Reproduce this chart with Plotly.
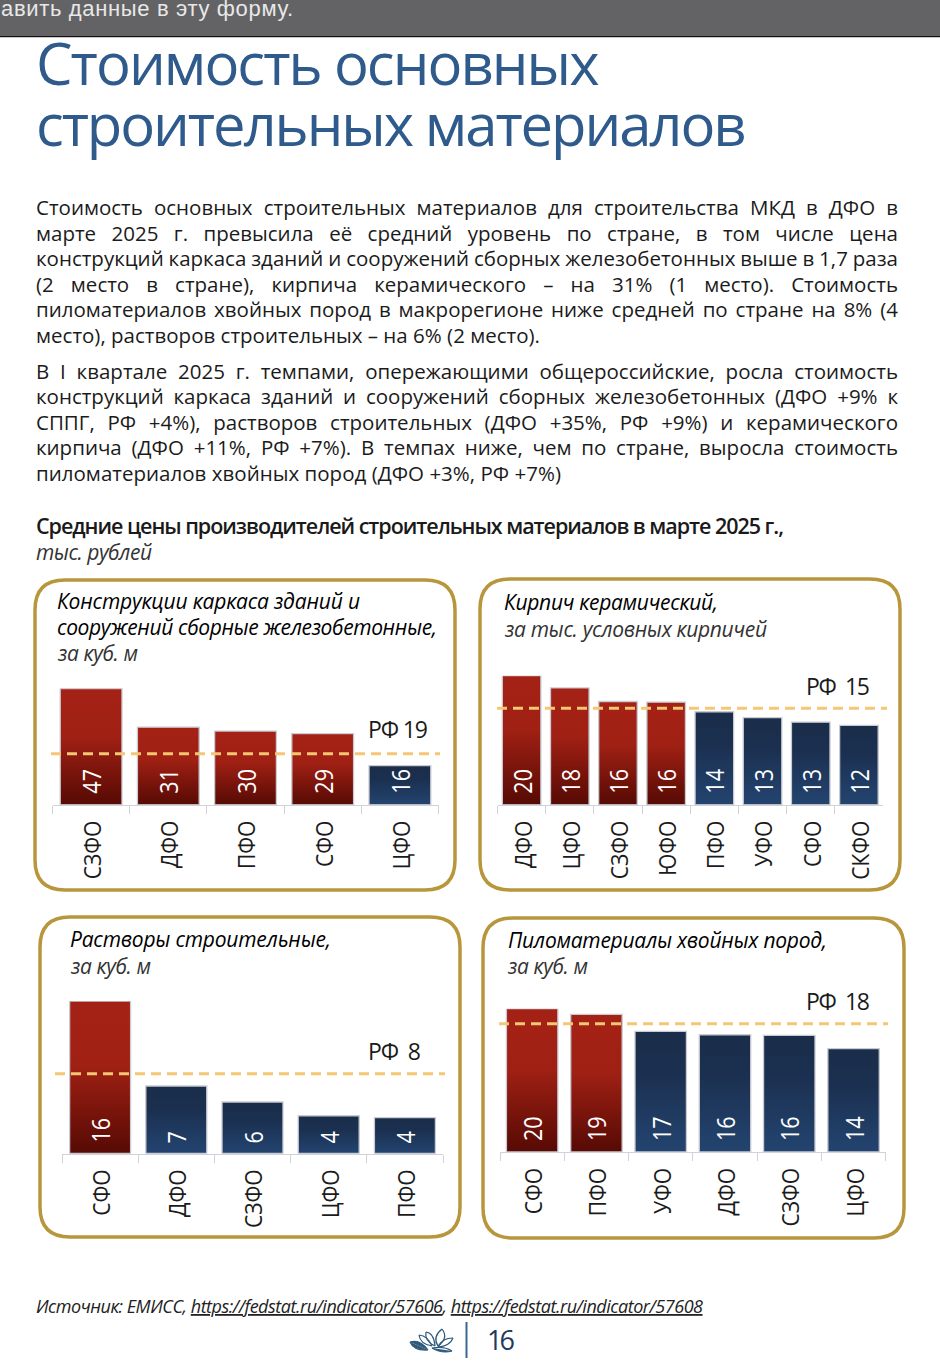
import json
import plotly.graph_objects as go

W, H = 940, 1362

# ---------- chart data ----------
frame_regions = ["СЗФО", "ДФО", "ПФО", "СФО", "ЦФО"]
frame_values = [47.0, 31.4, 29.8, 28.8, 15.8]
frame_rf_label = 19
frame_rf_level = 20.6

brick_regions = ["ДФО", "ЦФО", "СЗФО", "ЮФО", "ПФО", "УФО", "СФО", "СКФО"]
brick_values = [20.0, 18.1, 16.0, 15.9, 14.4, 13.49, 12.8, 12.3]
brick_rf_label = 15
brick_rf_level = 14.95

mortar_regions = ["СФО", "ДФО", "СЗФО", "ЦФО", "ПФО"]
mortar_values = [16.4, 7.26, 5.54, 4.06, 3.85]
mortar_rf_label = 8
mortar_rf_level = 8.58

timber_regions = ["СФО", "ПФО", "УФО", "ДФО", "СЗФО", "ЦФО"]
timber_values = [20.04, 19.26, 16.88, 16.4, 16.32, 14.45]
timber_rf_label = 18
timber_rf_level = 17.94

# ---------- texts ----------
title_lines = ["Стоимость основных", "строительных материалов"]
para_lines = [
    "Стоимость основных строительных материалов для строительства МКД в ДФО в",
    "марте 2025 г. превысила её средний уровень по стране, в том числе цена",
    "конструкций каркаса зданий и сооружений сборных железобетонных выше в 1,7 раза",
    "(2 место в стране), кирпича керамического – на 31% (1 место). Стоимость",
    "пиломатериалов хвойных пород в макрорегионе ниже средней по стране на 8% (4",
    "место), растворов строительных – на 6% (2 место).",
    "В I квартале 2025 г. темпами, опережающими общероссийские, росла стоимость",
    "конструкций каркаса зданий и сооружений сборных железобетонных (ДФО +9% к",
    "СППГ, РФ +4%), растворов строительных (ДФО +35%, РФ +9%) и керамического",
    "кирпича (ДФО +11%, РФ +7%). В темпах ниже, чем по стране, выросла стоимость",
    "пиломатериалов хвойных пород (ДФО +3%, РФ +7%)",
]
para_y = [208, 234, 259, 285, 310, 336, 372, 397, 423, 448, 474]
para_x1 = [898, 898, 898, 898, 898, 540, 898, 898, 898, 898, 561]

RED, BLUE = "#A42115", "#1A2D4A"
GOLD = "#B8963C"
INK = "#1B1B1B"
FONT = "Open Sans"


def px(x):
    return x / W


def py(y):
    return 1 - y / H


panels = [
    dict(cats=frame_regions, vals=frame_values, rf=frame_rf_label, level=frame_rf_level,
         box=(35, 580, 455, 890), ax=(52.5, 438.5), line=(51, 440), base=804.7, scale=2.47,
         head=[("Конструкции каркаса зданий и", 57, 360, 602, True),
               ("сооружений сборные железобетонные,", 57, 437, 628, True),
               ("за куб. м", 57, 137, 654, False)],
         rf_text="РФ 19", rf_pos=(368, 428, 730)),
    dict(cats=brick_regions, vals=brick_values, rf=brick_rf_label, level=brick_rf_level,
         box=(480, 579, 900, 890), ax=(497.5, 883), line=(497, 887), base=804.7, scale=6.45,
         head=[("Кирпич керамический,", 504, 718, 603, True),
               ("за тыс. условных кирпичей", 504, 766, 630, False)],
         rf_text="РФ\u00a0 15", rf_pos=(806, 870, 687)),
    dict(cats=mortar_regions, vals=mortar_values, rf=mortar_rf_label, level=mortar_rf_level,
         box=(40, 917, 460, 1237), ax=(62, 443), line=(55, 445), base=1153.5, scale=9.3,
         head=[("Растворы строительные,", 70, 331, 940, True),
               ("за куб. м", 70, 150, 967, False)],
         rf_text="РФ\u00a0 8", rf_pos=(368, 421, 1052)),
    dict(cats=timber_regions, vals=timber_values, rf=timber_rf_label, level=timber_rf_level,
         box=(483, 918, 904, 1238), ax=(500, 885.7), line=(499, 888), base=1152, scale=7.15,
         head=[("Пиломатериалы хвойных пород,", 508, 827, 941, True),
               ("за куб. м", 507, 587, 967, False)],
         rf_text="РФ\u00a0 18", rf_pos=(806, 870, 1002)),
]

fig = go.Figure()
layout = dict(
    width=W, height=H, autosize=False, margin=dict(l=0, r=0, t=0, b=0),
    paper_bgcolor="white", plot_bgcolor="rgba(0,0,0,0)", showlegend=False,
    bargap=0.2, font=dict(family=FONT, color=INK),
)
shapes, annotations, fits = [], [], []


def add_text(text, x0, x1, y, size, color=INK, mode="l", **font):
    """One line of text; x1 is the right edge it must reach in the reference."""
    annotations.append(dict(
        xref="paper", yref="paper", x=px(x0 - 1.5), y=py(y - 1), text=text, showarrow=False,
        xanchor="left", yanchor="middle", align="left", borderpad=0,
        font=dict(family=font.pop("family", FONT), size=size, color=color, **font),
    ))
    fits.append([len(annotations) - 1, mode, x1 - x0])


def rounded(x0, y0, x1, y1, r):
    X, Y = px, py
    return (f"M{X(x0+r)},{Y(y0)} L{X(x1-r)},{Y(y0)} Q{X(x1)},{Y(y0)} {X(x1)},{Y(y0+r)} "
            f"L{X(x1)},{Y(y1-r)} Q{X(x1)},{Y(y1)} {X(x1-r)},{Y(y1)} "
            f"L{X(x0+r)},{Y(y1)} Q{X(x0)},{Y(y1)} {X(x0)},{Y(y1-r)} "
            f"L{X(x0)},{Y(y0+r)} Q{X(x0)},{Y(y0)} {X(x0+r)},{Y(y0)} Z")


for i, p in enumerate(panels, start=1):
    lx, ly = ("xaxis", "yaxis") if i == 1 else (f"xaxis{i}", f"yaxis{i}")
    xa = "x" if i == 1 else f"x{i}"
    ya = "y" if i == 1 else f"y{i}"
    top = max(p["vals"])
    ytop = p["base"] - top * p["scale"]
    colors = [RED if v > p["rf"] else BLUE for v in p["vals"]]
    fig.add_trace(go.Bar(
        x=p["cats"], y=p["vals"], xaxis=xa, yaxis=ya,
        marker=dict(color=colors, line=dict(color="#C9CAD2", width=1.3)),
        texttemplate="\u00a0%{y:.0f}", textposition="inside", insidetextanchor="start",
        textangle=-90, constraintext="none",
        textfont=dict(family=FONT, size=25, color="white"), hoverinfo="skip",
    ))
    layout[lx] = dict(
        domain=[px(p["ax"][0]), px(p["ax"][1])], anchor=ya, type="category",
        showgrid=False, zeroline=False, showline=True, linecolor="#D2D3DA", linewidth=1,
        ticks="outside", tickson="boundaries", ticklen=8, tickcolor="#D2D3DA", tickwidth=1,
        tickangle=-90, tickfont=dict(family=FONT, size=24.5, color=INK), automargin=False,
        ticklabelstandoff=5, ticklabelshift=2,
    )
    layout[ly] = dict(domain=[py(p["base"]), py(ytop)], anchor=xa, range=[0, top], visible=False)
    x0, y0, x1, y1 = p["box"]
    shapes.append(dict(type="path", xref="paper", yref="paper", path=rounded(x0, y0, x1, y1, 30),
                       line=dict(color=GOLD, width=3.5), layer="below"))
    span = p["ax"][1] - p["ax"][0]
    shapes.append(dict(type="line", xref=f"{xa} domain", yref=ya,
                       x0=(p["line"][0] - p["ax"][0]) / span, x1=(p["line"][1] - p["ax"][0]) / span,
                       y0=p["level"], y1=p["level"],
                       line=dict(color="#F5C674", width=3, dash="10px,6px")))
    for text, a, b, y, strong in p["head"]:
        add_text(text, a, b, y, 21, color="#000000" if strong else "#333333", style="italic")
    a, b, y = p["rf_pos"]
    add_text(p["rf_text"], a, b, y, 23)

# ---------- page furniture ----------
shapes.append(dict(type="rect", xref="paper", yref="paper", x0=0, x1=1, y0=py(36), y1=1,
                   fillcolor="#636365", line_width=0, layer="below"))
shapes.append(dict(type="rect", xref="paper", yref="paper", x0=0, x1=1, y0=py(37), y1=py(36),
                   fillcolor="#111111", line_width=0, layer="below"))
shapes.append(dict(type="rect", xref="paper", yref="paper", x0=0, x1=1, y0=py(38), y1=py(37),
                   fillcolor="#C8C8C8", line_width=0, layer="below"))
add_text("авить данные в эту форму.", 1, 293, 9, 22, color="#E8E8E8", family="Liberation Sans")

add_text(title_lines[0], 36.5, 600, 63, 58, color="#2F5A8C")
add_text(title_lines[1], 36.5, 747, 124, 58, color="#2F5A8C")

for line, y, x1 in zip(para_lines, para_y, para_x1):
    add_text(line, 36, x1, y, 20.5, mode="w" if x1 == 898 else "l")

add_text("Средние цены производителей строительных материалов в марте 2025 г.,", 36, 784, 526.5, 21.5,
         color="#1A1A1A", weight=600)
add_text("тыс. рублей", 36, 152, 553, 21, color="#333333", style="italic")
add_text("Источник: ЕМИСС, <u>https://fedstat.ru/indicator/57606</u>, "
         "<u>https://fedstat.ru/indicator/57608</u>", 36, 703, 1307, 18, color="#222222", style="italic")
add_text("16", 487, 515, 1340, 27, color="#1F3A5C")

# divider and lotus mark of the footer
shapes.append(dict(type="line", xref="paper", yref="paper", x0=px(466.5), x1=px(466.5),
                   y0=py(1322), y1=py(1358), line=dict(color="#3A6690", width=2)))
leaves = [
    ((410, 1342), (420, 1339), (428, 1350), True),
    ((410, 1342), (414, 1351), (428, 1350), True),
    ((419, 1335), (428, 1336), (432, 1346), False),
    ((419, 1335), (420, 1344), (432, 1346), False),
    ((426, 1332), (434, 1333), (435, 1346), False),
    ((426, 1332), (424, 1341), (435, 1346), False),
    ((442, 1329), (449, 1338), (438, 1346), False),
    ((442, 1329), (432, 1337), (438, 1346), False),
    ((453, 1338), (450, 1346), (438, 1347), False),
    ((453, 1338), (442, 1338), (438, 1347), False),
    ((452, 1351), (442, 1354), (432, 1348), True),
    ((452, 1351), (444, 1346), (432, 1348), False),
]
for (ax_, ay), (cx, cy), (bx, by), filled in leaves:
    shapes.append(dict(
        type="path", xref="paper", yref="paper",
        path=f"M{px(ax_)},{py(ay)} Q{px(cx)},{py(cy)} {px(bx)},{py(by)}",
        fillcolor="#2F5A7C" if filled else "rgba(0,0,0,0)",
        line=dict(color="#2F5A7C", width=1.2),
    ))

layout["shapes"] = shapes
layout["annotations"] = annotations
fig.update_layout(**layout)

post = """
document.body.style.margin = '0';
document.documentElement.style.overflow = 'hidden';
var gd = document.getElementById('{plot_id}');
var svg = gd.querySelector('svg.main-svg');
var NS = 'http://www.w3.org/2000/svg';
function grad(id, stops) {
  var g = document.createElementNS(NS, 'linearGradient');
  g.setAttribute('id', id);
  g.setAttribute('x1', '0'); g.setAttribute('y1', '0');
  g.setAttribute('x2', '0'); g.setAttribute('y2', '1');
  stops.forEach(function (s) {
    var e = document.createElementNS(NS, 'stop');
    e.setAttribute('offset', s[0]); e.setAttribute('stop-color', s[1]);
    g.appendChild(e);
  });
  svg.querySelector('defs').appendChild(g);
}
grad('gradRed', [[0, '#A42115'], [0.42, '#A02014'], [1, '#560A04']]);
grad('gradBlue', [[0, '#1A2D4A'], [0.35, '#1B3050'], [1, '#234470']]);
gd.querySelectorAll('.bars .point path').forEach(function (b) {
  var f = b.style.fill;
  b.style.fill = f.indexOf('164') >= 0 ? 'url(#gradRed)' : 'url(#gradBlue)';
});
gd.querySelectorAll('g[class$="tick"] text, .bartext').forEach(function (t) {
  var len = t.getComputedTextLength();
  t.setAttribute('lengthAdjust', 'spacingAndGlyphs');
  t.setAttribute('textLength', (len * 0.86).toFixed(2));
});
var fits = FITS;
fits.forEach(function (f) {
  var t = gd.querySelector('.annotation[data-index="' + f[0] + '"] text');
  if (!t) return;
  var len = t.getComputedTextLength();
  var s = t.textContent;
  if (f[1] === 'w') {
    var n = s.split(' ').length - 1;
    if (n > 0) t.style.wordSpacing = ((f[2] - len) / n) + 'px';
  } else {
    t.style.letterSpacing = ((f[2] - len) / Math.max(1, s.length - 1)) + 'px';
  }
});
""".replace("FITS", json.dumps(fits))

fig.write_html("out.html", post_script=post, config={"displayModeBar": False})
